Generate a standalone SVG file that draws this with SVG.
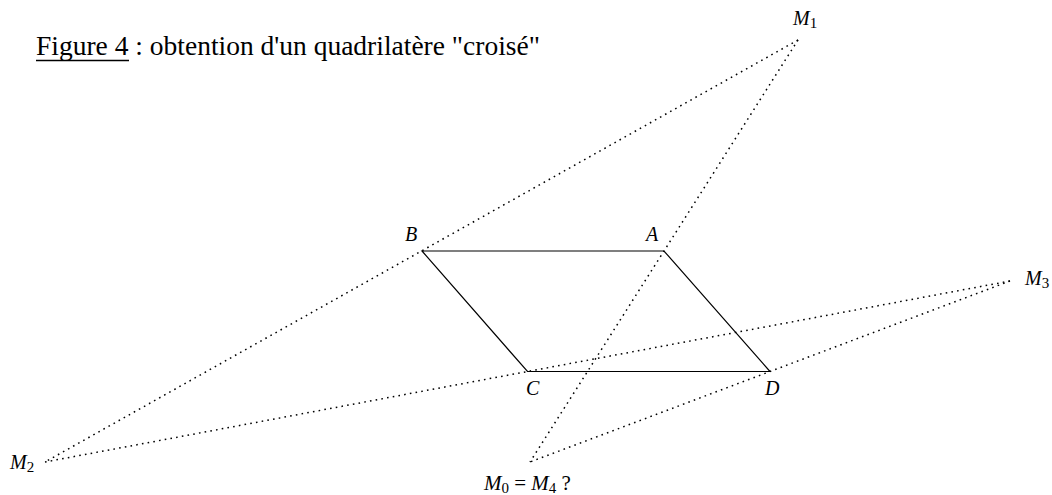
<svg xmlns="http://www.w3.org/2000/svg" width="1052" height="495" viewBox="0 0 1052 495">
<style>
.dot{stroke:#000;stroke-width:1.5;stroke-dasharray:1.6 4.2;fill:none;stroke-linecap:butt}
.solid{stroke:#000;stroke-width:1.2;fill:none}
</style>
<rect width="1052" height="495" fill="#fff"/>
<g id="title">
<text x="36" y="55" font-size="27.5" style="font-family:'Liberation Serif'">Figure 4 : obtention d'un quadrilatère "croisé"</text>
<line x1="36" y1="60.5" x2="129" y2="60.5" stroke="#000" stroke-width="1.5"/>
</g>
<g id="connectors">
<line class="dot" x1="798" y1="40" x2="45" y2="462"/>
<line class="dot" x1="798" y1="40" x2="530" y2="462"/>
<line class="dot" x1="45" y1="462" x2="1010" y2="281"/>
<line class="dot" x1="1010" y1="281" x2="530" y2="462"/>
<polygon class="solid" points="422,251 664,251 770,371.5 527.5,371.5"/>
</g>
<g id="M1"><text x="793" y="25" font-size="20" style="font-family:'Liberation Serif';font-style:italic">M<tspan font-size="15" style="font-style:normal" dy="3">1</tspan></text></g>
<g id="B"><text x="405" y="241" font-size="20" style="font-family:'Liberation Serif';font-style:italic">B</text></g>
<g id="A"><text x="646" y="241" font-size="20" style="font-family:'Liberation Serif';font-style:italic">A</text></g>
<g id="C"><text x="526" y="395" font-size="20" style="font-family:'Liberation Serif';font-style:italic">C</text></g>
<g id="D"><text x="765" y="395" font-size="20" style="font-family:'Liberation Serif';font-style:italic">D</text></g>
<g id="M2"><text x="10" y="469" font-size="20" style="font-family:'Liberation Serif';font-style:italic">M<tspan font-size="15" style="font-style:normal" dy="3">2</tspan></text></g>
<g id="M3"><text x="1025" y="285" font-size="20" style="font-family:'Liberation Serif';font-style:italic">M<tspan font-size="15" style="font-style:normal" dy="3">3</tspan></text></g>
<g id="M0"><text x="484" y="490" font-size="21" style="font-family:'Liberation Serif';font-style:italic">M<tspan font-size="15" style="font-style:normal" dy="3">0</tspan><tspan dy="-3" style="font-style:normal"> = </tspan><tspan>M</tspan><tspan font-size="15" style="font-style:normal" dy="3">4</tspan><tspan dy="-3" style="font-style:normal"> ?</tspan></text></g>
</svg>
